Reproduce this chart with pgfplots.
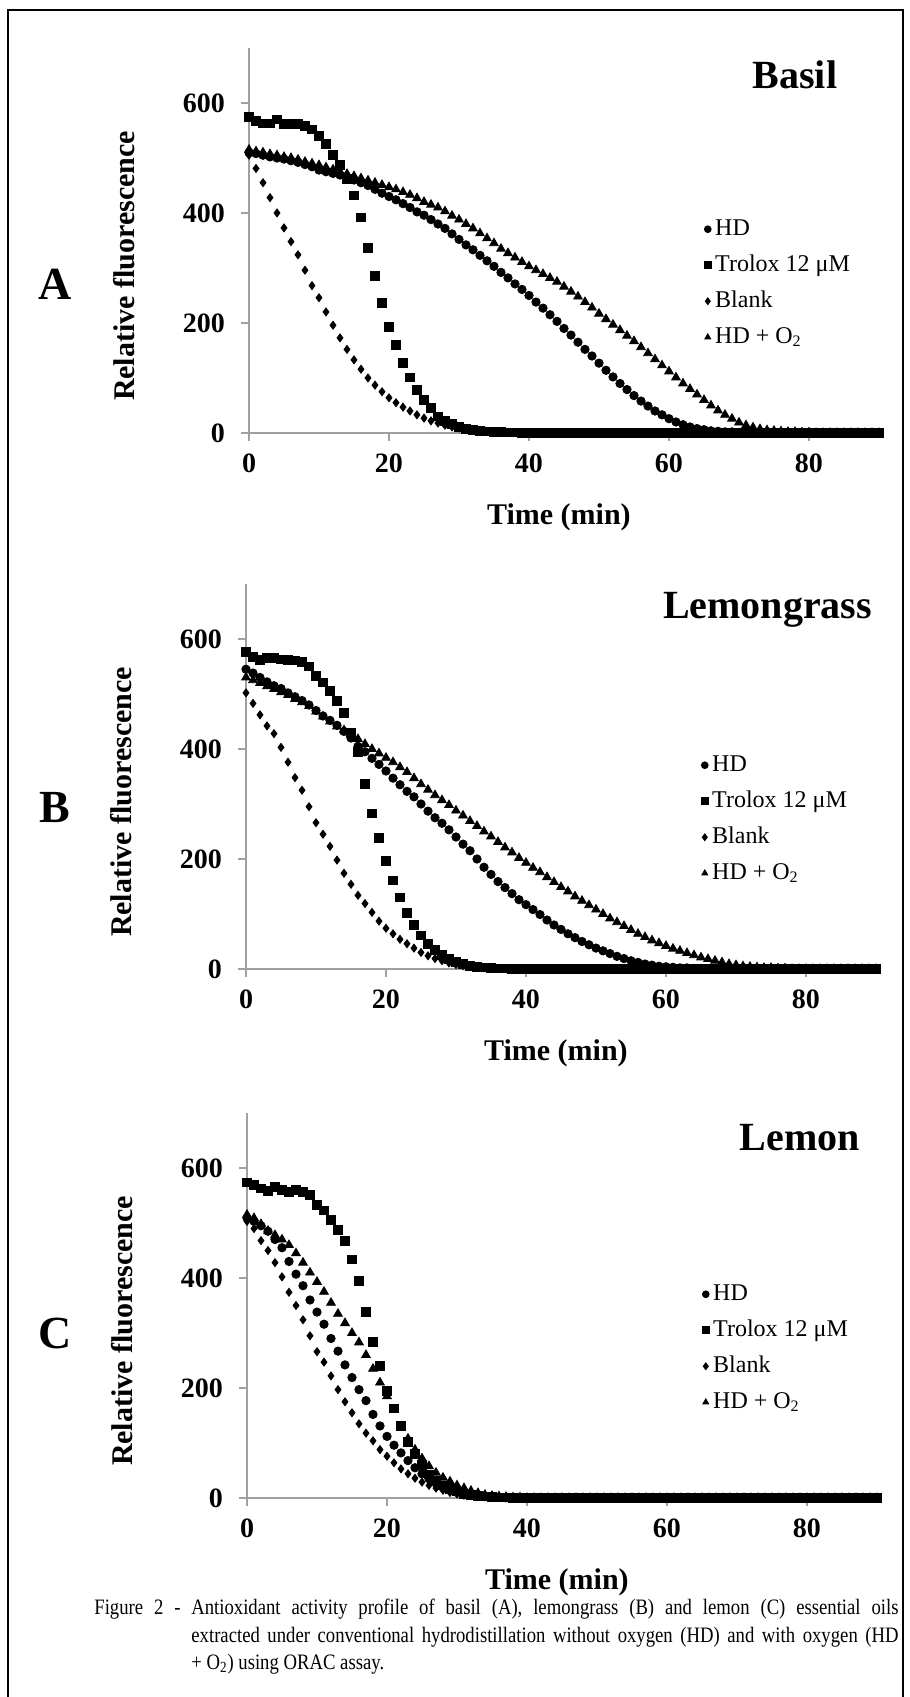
\documentclass[border=0pt]{standalone}
\usepackage{fontspec}
\setmainfont{Liberation Serif}
\usepackage{pgfplots}
\usepackage{pgfplotstable}
\pgfplotsset{compat=1.18}
\usepackage{graphicx}
\definecolor{axgray}{HTML}{A0A0A0}

% columns: time (min), HD, Trolox 12 uM, Blank, HD + O2
\pgfplotstableread{
t hd tro blank hdo
0 510 575 505 515
1 508 568 481 512
2 505 563 455 510
3 502 563 428 507
4 500 570 400 505
5 498 562 373 502
6 495 562 348 500
7 492 562 324 497
8 488 558 296 493
9 484 552 268 490
10 478 540 246 487
11 475 525 220 483
12 472 505 196 479
13 469 487 173 475
14 465 462 152 471
15 460 432 133 467
16 455 392 116 463
17 450 336 100 459
18 443 285 87 455
19 436 237 75 451
20 430 193 64 447
21 424 160 55 443
22 417 128 47 438
23 410 101 40 433
24 402 78 33 427
25 396 60 27 420
26 388 45 22 415
27 380 30 18 410
28 372 22 14 403
29 362 16 11 395
30 352 11 9 388
31 342 8 7 380
32 333 6 5 372
33 323 4 4 363
34 313 3 3 354
35 303 2 2 345
36 292 2 2 335
37 282 1 1 327
38 271 1 1 319
39 261 0 0 311
40 250 0 0 303
41 238 0 0 296
42 227 0 0 289
43 215 0 0 282
44 203 0 0 275
45 190 0 0 266
46 178 0 0 257
47 165 0 0 248
48 152 0 0 238
49 140 0 0 228
50 127 0 0 217
51 114 0 0 207
52 102 0 0 197
53 90 0 0 187
54 79 0 0 177
55 68 0 0 167
56 58 0 0 156
57 49 0 0 145
58 40 0 0 134
59 33 0 0 123
60 26 0 0 112
61 20 0 0 101
62 15 0 0 90
63 11 0 0 80
64 8 0 0 70
65 6 0 0 60
66 4 0 0 50
67 3 0 0 41
68 2 0 0 33
69 2 0 0 26
70 1 0 0 19
71 0 0 0 14
72 0 0 0 10
73 0 0 0 7
74 0 0 0 5
75 0 0 0 4
76 0 0 0 3
77 0 0 0 2
78 0 0 0 2
79 0 0 0 1
80 0 0 0 1
81 0 0 0 0
82 0 0 0 0
83 0 0 0 0
84 0 0 0 0
85 0 0 0 0
86 0 0 0 0
87 0 0 0 0
88 0 0 0 0
89 0 0 0 0
90 0 0 0 0
}\basil

\pgfplotstableread{
t hd tro blank hdo
0 545 577 502 530
1 538 568 483 525
2 530 562 462 520
3 522 566 442 514
4 515 566 428 509
5 510 563 403 503
6 502 562 376 498
7 495 561 348 491
8 488 559 325 485
9 480 550 295 478
10 470 533 266 468
11 460 521 245 459
12 452 506 223 450
13 443 488 198 441
14 432 466 174 434
15 420 430 154 426
16 405 395 134 418
17 395 336 119 409
18 383 283 103 400
19 372 239 87 392
20 360 196 74 384
21 347 161 64 376
22 335 130 54 367
23 323 102 46 358
24 313 80 38 347
25 300 61 30 336
26 287 46 24 326
27 275 34 19 316
28 265 25 15 307
29 253 18 11 298
30 240 13 8 288
31 227 9 6 279
32 215 6 4 269
33 200 4 3 260
34 185 3 2 250
35 172 2 2 241
36 159 1 1 231
37 148 1 1 221
38 137 0 0 212
39 126 0 0 202
40 117 0 0 193
41 108 0 0 184
42 99 0 0 176
43 89 0 0 167
44 80 0 0 158
45 72 0 0 149
46 64 0 0 141
47 57 0 0 132
48 50 0 0 124
49 44 0 0 116
50 38 0 0 108
51 33 0 0 100
52 28 0 0 92
53 23 0 0 85
54 19 0 0 78
55 15 0 0 71
56 12 0 0 64
57 9 0 0 58
58 7 0 0 52
59 5 0 0 47
60 4 0 0 42
61 3 0 0 37
62 2 0 0 33
63 2 0 0 29
64 1 0 0 25
65 1 0 0 21
66 0 0 0 18
67 0 0 0 15
68 0 0 0 12
69 0 0 0 9
70 0 0 0 7
71 0 0 0 5
72 0 0 0 4
73 0 0 0 3
74 0 0 0 2
75 0 0 0 2
76 0 0 0 1
77 0 0 0 1
78 0 0 0 0
79 0 0 0 0
80 0 0 0 0
81 0 0 0 0
82 0 0 0 0
83 0 0 0 0
84 0 0 0 0
85 0 0 0 0
86 0 0 0 0
87 0 0 0 0
88 0 0 0 0
89 0 0 0 0
90 0 0 0 0
}\lemongrass

\pgfplotstableread{
t hd tro blank hdo
0 509 574 503 515
1 503 570 490 509
2 495 563 468 498
3 485 559 450 486
4 470 565 428 478
5 455 560 402 470
6 430 557 374 460
7 407 560 350 445
8 386 556 324 428
9 360 551 295 410
10 338 533 266 393
11 316 523 247 375
12 290 506 222 355
13 267 488 197 335
14 242 468 175 318
15 219 434 155 300
16 197 395 135 283
17 177 338 118 260
18 152 284 104 235
19 131 240 88 210
20 112 195 76 185
21 96 163 64 160
22 82 131 53 130
23 68 102 44 108
24 55 80 36 88
25 44 60 29 72
26 35 43 23 58
27 27 32 18 46
28 20 23 14 37
29 15 17 10 30
30 11 12 7 23
31 8 8 5 18
32 6 6 4 13
33 4 4 3 9
34 3 3 2 6
35 2 2 1 4
36 1 1 1 3
37 1 1 0 2
38 0 0 0 1
39 0 0 0 1
40 0 0 0 0
41 0 0 0 0
42 0 0 0 0
43 0 0 0 0
44 0 0 0 0
45 0 0 0 0
46 0 0 0 0
47 0 0 0 0
48 0 0 0 0
49 0 0 0 0
50 0 0 0 0
51 0 0 0 0
52 0 0 0 0
53 0 0 0 0
54 0 0 0 0
55 0 0 0 0
56 0 0 0 0
57 0 0 0 0
58 0 0 0 0
59 0 0 0 0
60 0 0 0 0
61 0 0 0 0
62 0 0 0 0
63 0 0 0 0
64 0 0 0 0
65 0 0 0 0
66 0 0 0 0
67 0 0 0 0
68 0 0 0 0
69 0 0 0 0
70 0 0 0 0
71 0 0 0 0
72 0 0 0 0
73 0 0 0 0
74 0 0 0 0
75 0 0 0 0
76 0 0 0 0
77 0 0 0 0
78 0 0 0 0
79 0 0 0 0
80 0 0 0 0
81 0 0 0 0
82 0 0 0 0
83 0 0 0 0
84 0 0 0 0
85 0 0 0 0
86 0 0 0 0
87 0 0 0 0
88 0 0 0 0
89 0 0 0 0
90 0 0 0 0
}\lemon

\pgfplotsset{
  oracpanel/.style={
    scale only axis, width=315pt, height=192.5pt,
    xmin=0, xmax=90, ymin=0, ymax=700,
    axis lines*=left,
    axis line style={axgray, line width=0.6pt},
    tick align=outside, major tick length=4pt,
    every tick/.style={axgray, line width=0.6pt},
    xtick={0,20,40,60,80}, ytick={0,200,400,600},
    /pgf/number format/assume math mode=true,
    ticklabel style={font=\bfseries\fontsize{14}{14}\selectfont},
    yticklabel style={xshift=-4.5pt},
    xticklabel style={yshift=-3pt},
    xlabel={Time (min)}, ylabel={Relative fluorescence},
    label style={font=\bfseries\fontsize{15}{15}\selectfont},
    xlabel style={at={(axis description cs:0.492,-0.218)}, anchor=center},
    ylabel style={at={(axis description cs:-0.198,0.434)}, anchor=center},
    clip=false, anchor=south west,
    legend style={at={(axis cs:65,393)}, anchor=north west, draw=none, fill=none,
      inner sep=0pt, row sep=6pt, font=\fontsize{12}{14}\selectfont,
      nodes={inner ysep=0pt, inner xsep=2pt, text height=9pt, text depth=3pt}},
    legend cell align=left,
    legend image code/.code={\draw[mark repeat=2,mark phase=2,##1,mark size=1.7pt] plot coordinates {(0cm,0cm)(0.1cm,0cm)(0.2cm,0cm)};},
  },
  hd/.style={only marks, black, mark=*, mark size=2.1pt},
  tro/.style={only marks, black, mark=square*, mark size=2.2pt},
  blank/.style={only marks, black, mark=diamond*, mark size=2pt},
  hdo/.style={only marks, black, mark=triangle*, mark size=2.5pt},
}

\newcommand{\panel}[1]{%
  \addplot[hd] table[x=t,y=hd]{#1};
  \addplot[tro] table[x=t,y=tro]{#1};
  \addplot[blank] table[x=t,y=blank]{#1};
  \addplot[hdo] table[x=t,y=hdo]{#1};
  \legend{HD, Trolox 12 μM, Blank, HD + O\textsubscript{2}}
}

\begin{document}
\begin{tikzpicture}
\useasboundingbox (0,0) rectangle (455pt,848.5pt);
\draw[line width=0.6pt] ({8*0.5pt},0) -- ({8*0.5pt},{(1697-10)*0.5pt}) -- ({903*0.5pt},{(1697-10)*0.5pt}) -- ({903*0.5pt},0);

% A: basil
\begin{axis}[oracpanel, at={({249*0.5pt},{(1697-433)*0.5pt})}]
\panel{\basil}
\node[font=\bfseries\fontsize{20}{20}\selectfont] at (axis cs:78,651) {Basil};
\end{axis}
\node[font=\bfseries\fontsize{23}{23}\selectfont] at ({55*0.5pt},{(1697-284)*0.5pt}) {A};

% B: lemongrass
\begin{axis}[oracpanel, at={({246*0.5pt},{(1697-969)*0.5pt})}]
\panel{\lemongrass}
\node[font=\bfseries\fontsize{20}{20}\selectfont] at (axis cs:74.5,653) {Lemongrass};
\end{axis}
\node[font=\bfseries\fontsize{23}{23}\selectfont] at ({55*0.5pt},{(1697-808)*0.5pt}) {B};

% C: lemon
\begin{axis}[oracpanel, at={({247*0.5pt},{(1697-1498)*0.5pt})}]
\panel{\lemon}
\node[font=\bfseries\fontsize{20}{20}\selectfont] at (axis cs:79,655) {Lemon};
\end{axis}
\node[font=\bfseries\fontsize{23}{23}\selectfont] at ({55*0.5pt},{(1697-1333)*0.5pt}) {C};

% caption
\node[anchor=west, inner sep=0pt, font=\fontsize{11}{11}\selectfont] at ({94*0.5pt},{(1697-1609)*0.5pt})
  {\scalebox{0.85}[1]{\makebox[473pt][s]{Figure 2 - Antioxidant activity profile of basil (A), lemongrass (B) and lemon (C) essential oils}}};
\node[anchor=west, inner sep=0pt, font=\fontsize{11}{11}\selectfont] at ({191*0.5pt},{(1697-1637)*0.5pt})
  {\scalebox{0.85}[1]{\makebox[416pt][s]{extracted under conventional hydrodistillation without oxygen (HD) and with oxygen (HD}}};
\node[anchor=west, inner sep=0pt, font=\fontsize{11}{11}\selectfont] at ({191*0.5pt},{(1697-1664)*0.5pt})
  {\scalebox{0.85}[1]{+ O\textsubscript{2}) using ORAC assay.}};
\end{tikzpicture}
\end{document}
